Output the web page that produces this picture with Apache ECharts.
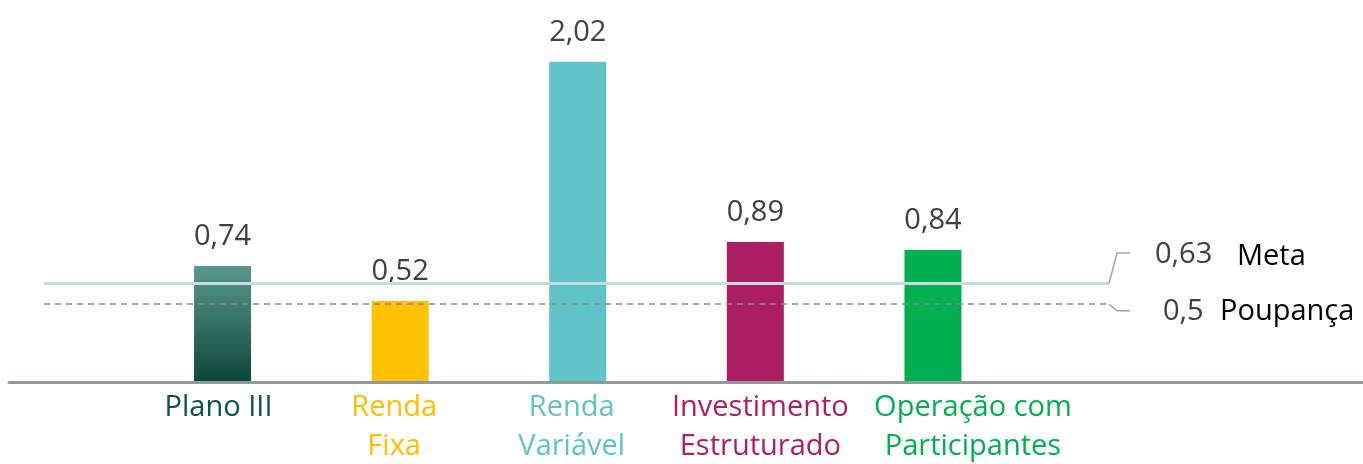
<!DOCTYPE html>
<html>
<head>
<meta charset="utf-8">
<script src="https://cdn.jsdelivr.net/npm/echarts@6/dist/echarts.min.js"></script>
<style>
  html, body { margin: 0; padding: 0; background: #ffffff; }
  #chart { width: 1363px; height: 464px; }
</style>
</head>
<body>
<div id="chart"></div>
<script>
// ---- Data ----
const categories = ['Plano III', 'Renda\nFixa', 'Renda\nVariável', 'Investimento\nEstruturado', 'Operação com\nParticipantes'];
const values = [0.74, 0.52, 2.02, 0.89, 0.84];
const valueLabels = ['0,74', '0,52', '2,02', '0,89', '0,84'];
const metaValue = 0.63;
const metaText = '0,63';
const metaName = 'Meta';
const poupancaValue = 0.5;
const poupancaText = '0,5';
const poupancaName = 'Poupança';

// ---- Styles ----
const FONT = '"Open Sans", "Liberation Sans", sans-serif';
const barColors = [
  { type: 'linear', x: 0, y: 0, x2: 0, y2: 1, colorStops: [{ offset: 0, color: '#58998c' }, { offset: 1, color: '#0b463a' }] },
  '#ffc000', '#5fc3c8', '#ad1f65', '#00b050'
];
const labelColors = ['#0d5444', '#ffc000', '#5fc3c8', '#ad1f65', '#00b050'];
const labelPad = [[0, 8, 0, 0], [0, 12, 0, 0], [0, 12, 0, 0], [0, 0, 0, 10], [0, 0, 0, 80]];

const YMAX = 2.4;
const rich = {};
labelColors.forEach((c, i) => {
  rich['c' + i] = { color: c, fontFamily: FONT, fontSize: 29, lineHeight: 39, padding: labelPad[i] };
});

const chart = echarts.init(document.getElementById('chart'), null, { renderer: 'canvas' });

const option = {
  animation: false,
  backgroundColor: '#ffffff',
  grid: [
    { left: 133.75, right: 341.25, top: 1, bottom: 80, containLabel: false },
    { left: 44, right: 254, top: 1, bottom: 80, containLabel: false },
    { left: 9, right: 0, top: 1, bottom: 81.5, containLabel: false }
  ],
  xAxis: [
    {
      type: 'category', gridIndex: 0, data: categories,
      axisLine: { show: false }, axisTick: { show: false },
      axisLabel: {
        interval: 0, margin: 4,
        formatter: function (value, idx) {
          return value.split('\n').map(s => '{c' + idx + '|' + s + '}').join('\n');
        },
        rich: rich
      }
    },
    { type: 'value', gridIndex: 1, min: 0, max: 1, show: false },
    {
      type: 'value', gridIndex: 2, min: 0, max: 1, z: 10,
      axisLine: { show: true, lineStyle: { color: '#8f9a9c', width: 3 } },
      axisTick: { show: false }, axisLabel: { show: false }, splitLine: { show: false }
    }
  ],
  yAxis: [
    { type: 'value', gridIndex: 0, min: 0, max: YMAX, show: false },
    { type: 'value', gridIndex: 1, min: 0, max: YMAX, show: false },
    { type: 'value', gridIndex: 2, min: 0, max: 1, show: false }
  ],
  series: [
    {
      type: 'bar', xAxisIndex: 0, yAxisIndex: 0, barWidth: 57, z: 2,
      data: values.map((v, i) => ({ value: v, itemStyle: { color: barColors[i] } })),
      label: {
        show: true, position: 'top', distance: 14,
        formatter: p => valueLabels[p.dataIndex],
        fontFamily: FONT, fontSize: 29, lineHeight: 30, color: '#404040'
      }
    },
    {
      type: 'line', xAxisIndex: 1, yAxisIndex: 1, data: [], z: 5,
      markLine: {
        silent: true, symbol: 'none', label: { show: false },
        data: [
          { yAxis: metaValue, lineStyle: { color: '#c6dbe0', width: 3, type: 'solid' } },
          { yAxis: poupancaValue, lineStyle: { color: '#8a8a8a', width: 1.5, type: [6, 5] } }
        ]
      }
    }
  ]
};
chart.setOption(option);

// Leader lines and side labels positioned from the axis scales
const xEnd = chart.convertToPixel({ xAxisIndex: 1 }, 1);
const yMeta = chart.convertToPixel({ yAxisIndex: 1 }, metaValue);
const yPoup = chart.convertToPixel({ yAxisIndex: 1 }, poupancaValue);
const yMetaLbl = yMeta - 30.5;
const yPoupLbl = yPoup + 6.5;
const leaderStyle = { stroke: '#a6a6a6', lineWidth: 1.5, fill: null };
const txt = (x, y, text, color) => ({
  type: 'text', x: x, y: y, z: 20,
  style: { text: text, fill: color, font: '29px ' + FONT, textAlign: 'left', textVerticalAlign: 'middle' }
});
chart.setOption({
  graphic: [
    { type: 'polyline', z: 20, shape: { points: [[xEnd, yMeta], [xEnd + 8, yMetaLbl], [xEnd + 21, yMetaLbl]] }, style: leaderStyle },
    { type: 'polyline', z: 20, shape: { points: [[xEnd, yPoup], [xEnd + 8, yPoupLbl], [xEnd + 21, yPoupLbl]] }, style: leaderStyle },
    txt(xEnd + 46, yMetaLbl + 2, metaText, '#404040'),
    txt(xEnd + 128, yMetaLbl + 4, metaName, '#000000'),
    txt(xEnd + 54, yPoupLbl + 1, poupancaText, '#404040'),
    txt(xEnd + 111, yPoupLbl + 1, poupancaName, '#000000')
  ]
});
</script>
</body>
</html>
